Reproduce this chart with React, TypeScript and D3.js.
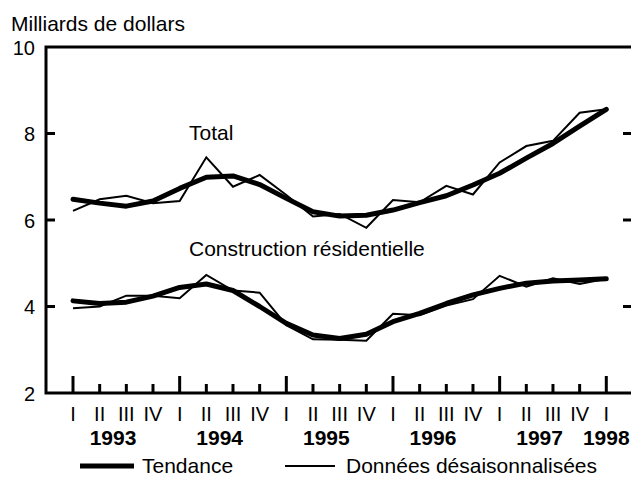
import React from "react";
import * as d3 from "d3";

// quarterly values, 1993 Q1 .. 1998 Q1 (billions of dollars)
const quarterLabels = [
  "I", "II", "III", "IV",
  "I", "II", "III", "IV",
  "I", "II", "III", "IV",
  "I", "II", "III", "IV",
  "I", "II", "III", "IV",
  "I",
];
const years = ["1993", "1994", "1995", "1996", "1997", "1998"];
const yTicks = [2, 4, 6, 8, 10];

const totalTrend = [
  6.48, 6.39, 6.32, 6.44, 6.73, 6.99, 7.02, 6.82, 6.5, 6.19, 6.09,
  6.11, 6.23, 6.4, 6.56, 6.81, 7.08, 7.43, 7.77, 8.17, 8.56,
];
const totalRaw = [
  6.21, 6.48, 6.56, 6.39, 6.44, 7.45, 6.77, 7.04, 6.58, 6.08, 6.14,
  5.82, 6.46, 6.41, 6.79, 6.59, 7.33, 7.71, 7.83, 8.48, 8.56,
];
const resTrend = [
  4.13, 4.07, 4.1, 4.24, 4.44, 4.52, 4.37, 4.0, 3.61, 3.34, 3.26,
  3.36, 3.65, 3.84, 4.07, 4.27, 4.42, 4.54, 4.59, 4.61, 4.64,
];
const resRaw = [
  3.96, 4.0, 4.25, 4.25, 4.19, 4.73, 4.37, 4.32, 3.57, 3.24, 3.23,
  3.21, 3.83, 3.8, 4.02, 4.17, 4.71, 4.46, 4.65, 4.52, 4.64,
];

const W = 631;
const H = 490;
const font = "'Liberation Sans', Arial, sans-serif";

export default function App() {
  const left = 46;
  const right = 631;
  const top = 47;
  const bottom = 393;

  const x = d3.scaleLinear().domain([0, 20]).range([73, 606.3]);
  const y = d3.scaleLinear().domain([2, 10]).range([bottom, top]);

  const line = d3
    .line<number>()
    .x((d, i) => x(i))
    .y((d) => y(d));

  return (
    <svg
      width={W}
      height={H}
      style={{ position: "absolute", left: 0, top: 0, background: "#fff" }}
      fontFamily={font}
    >
      <text x={11} y={31} fontSize={21}>
        Milliards de dollars
      </text>

      {/* frame */}
      <path
        d={`M${right + 2},${top} H${left} V${bottom} H${right + 2}`}
        fill="none"
        stroke="#000"
        strokeWidth={3}
      />

      {/* y ticks, inside on both sides */}
      {yTicks.map((t) => (
        <g key={t}>
          <text x={35} y={y(t) + 7.5} fontSize={20} textAnchor="end">
            {t}
          </text>
          {t > 2 && t < 10 && (
            <>
              <line x1={left} x2={left + 9} y1={y(t)} y2={y(t)} stroke="#000" strokeWidth={3} />
              <line x1={right - 8} x2={right} y1={y(t)} y2={y(t)} stroke="#000" strokeWidth={3} />
            </>
          )}
        </g>
      ))}

      {/* x ticks */}
      {quarterLabels.map((q, i) => (
        <g key={i}>
          <line
            x1={x(i)}
            x2={x(i)}
            y1={bottom}
            y2={i % 4 === 0 ? bottom - 17 : bottom - 9}
            stroke="#000"
            strokeWidth={3}
          />
          <text x={x(i)} y={421} fontSize={20} textAnchor="middle">
            {q}
          </text>
        </g>
      ))}
      {years.map((yr, k) => (
        <text
          key={yr}
          x={k < 5 ? x(k * 4 + 1.5) : x(20)}
          y={445}
          fontSize={21}
          fontWeight="bold"
          textAnchor="middle"
        >
          {yr}
        </text>
      ))}

      {/* series */}
      <path d={line(totalTrend) ?? ""} fill="none" stroke="#000" strokeWidth={5} strokeLinecap="round" strokeLinejoin="round" />
      <path d={line(resTrend) ?? ""} fill="none" stroke="#000" strokeWidth={5} strokeLinecap="round" strokeLinejoin="round" />
      <path d={line(totalRaw) ?? ""} fill="none" stroke="#000" strokeWidth={2} />
      <path d={line(resRaw) ?? ""} fill="none" stroke="#000" strokeWidth={2} />

      <text x={189} y={140} fontSize={21}>
        Total
      </text>
      <text x={189} y={256} fontSize={21}>
        Construction résidentielle
      </text>

      {/* legend */}
      <line x1={80} x2={134} y1={466} y2={466} stroke="#000" strokeWidth={5} />
      <text x={142} y={473} fontSize={21}>
        Tendance
      </text>
      <line x1={285} x2={335} y1={466} y2={466} stroke="#000" strokeWidth={2} />
      <text x={346} y={473} fontSize={21}>
        Données désaisonnalisées
      </text>
    </svg>
  );
}
